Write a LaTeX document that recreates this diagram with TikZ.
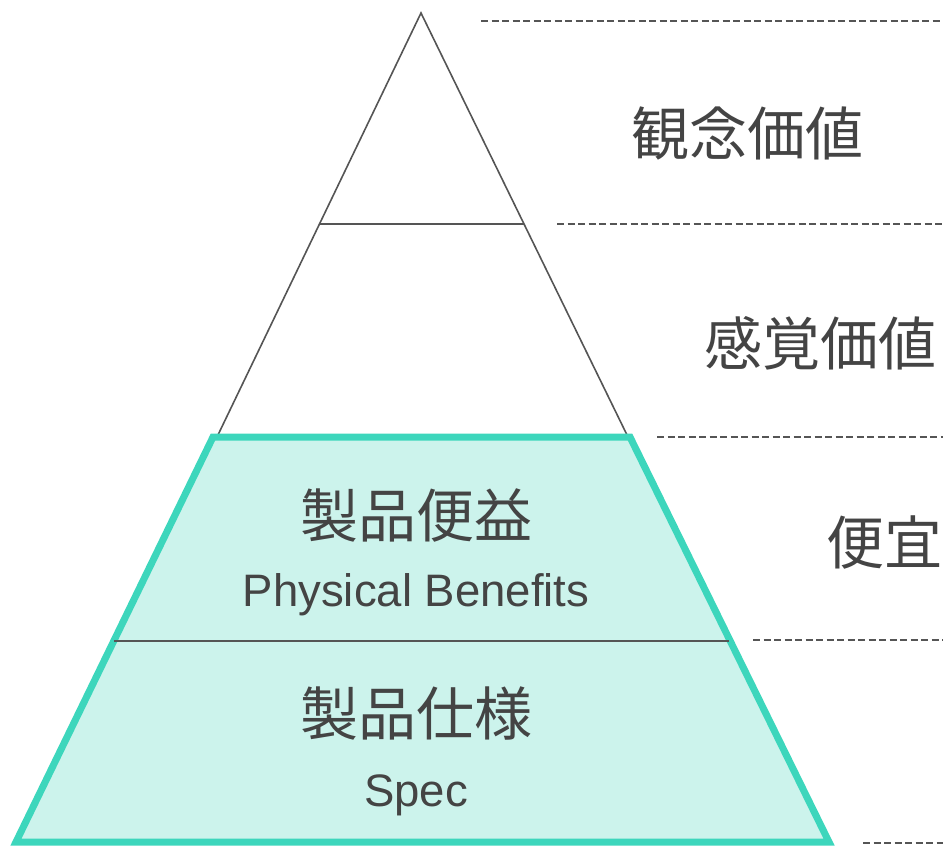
\documentclass[tikz,border=0pt]{standalone}
\usepackage{fontspec}
\setmainfont{Liberation Sans}
\newfontfamily\cjk{Noto Sans CJK JP}
\definecolor{txt}{HTML}{444444}
\definecolor{edge}{HTML}{555555}
\definecolor{teal}{HTML}{3DD6BC}
\definecolor{tealfill}{HTML}{CCF3EC}
\tikzset{
  outline/.style={draw=edge, line width=1.6pt},
  guide/.style={draw=edge, line width=2pt, dash pattern=on 7pt off 3.5pt},
  band/.style={draw=teal, line width=7pt, fill=tealfill, line join=miter},
  jlabel/.style={text=txt, font=\cjk\fontsize{58}{62}\selectfont, inner sep=0pt},
  elabel/.style={text=txt, font=\fontsize{45.5}{50}\selectfont, inner sep=0pt},
}
\begin{document}
\begin{tikzpicture}[x=1pt, y=-1pt]
\useasboundingbox (0,0) rectangle (943,846);
% pyramid
\coordinate (apex) at (421,13);
\coordinate (tl) at (217,437);
\coordinate (tr) at (628,437);
\coordinate (m1l) at (320,224);
\coordinate (m1r) at (524,224);
\draw[outline] (tl) -- (apex) -- (tr);
\draw[outline] (m1l) -- (m1r);
% teal trapezoid
\coordinate (bl) at (16,842);
\coordinate (br) at (829,842);
\coordinate (ul) at (213,437);
\coordinate (ur) at (630,437);
\draw[band] (ul) -- (ur) -- (br) -- (bl) -- cycle;
\coordinate (m2l) at (114,641);
\coordinate (m2r) at (729,641);
\draw[outline] (m2l) -- (m2r);
% guides
\coordinate (g1a) at (481,21);  \coordinate (g1b) at (943,21);
\coordinate (g2a) at (557,224); \coordinate (g2b) at (943,224);
\coordinate (g3a) at (657,437); \coordinate (g3b) at (943,437);
\coordinate (g4a) at (753,640); \coordinate (g4b) at (943,640);
\coordinate (g5a) at (863,843); \coordinate (g5b) at (943,843);
\draw[guide] (g1a) -- (g1b);
\draw[guide] (g2a) -- (g2b);
\draw[guide] (g3a) -- (g3b);
\draw[guide] (g4a) -- (g4b);
\draw[guide] (g5a) -- (g5b);
% labels
\node[jlabel] (kannen) at (747,133) {観念価値};
\node[jlabel] (kankaku) at (820,343) {感覚価値};
\node[jlabel, anchor=west] (bengi) at (826,543) {便宜};
\node[jlabel] (benek) at (416,515) {製品便益};
\node[elabel] (phys) at (416,595) {Physical Benefits};
\node[jlabel] (shiyo) at (416,713) {製品仕様};
\node[elabel] (spec) at (416,795) {Spec};
\end{tikzpicture}
\end{document}
